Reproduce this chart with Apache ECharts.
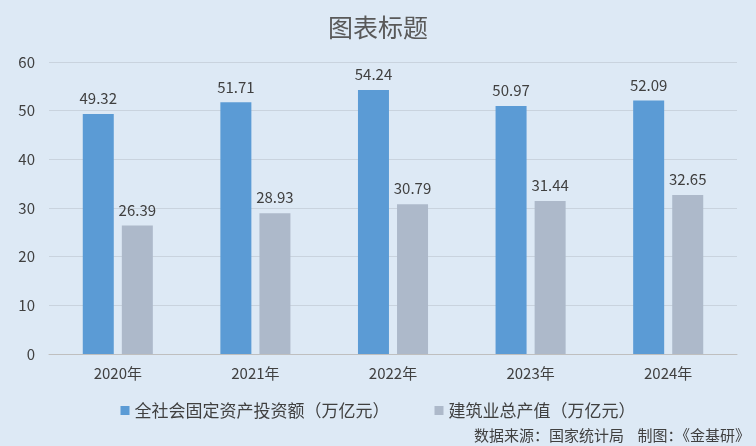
<!DOCTYPE html>
<html><head><meta charset="utf-8">
<script src="https://cdn.jsdelivr.net/npm/echarts@6/dist/echarts.min.js"></script>
<style>html,body{margin:0;padding:0;background:#dde9f5}#c{width:756px;height:446px}</style>
</head><body><div id="c"></div>
<script>
var years = ['2020年', '2021年', '2022年', '2023年', '2024年'];
var invest = [49.32, 51.71, 54.24, 50.97, 52.09];
var build = [26.39, 28.93, 30.79, 31.44, 32.65];
var font = '"Noto Sans CJK SC", sans-serif';
var lbl = {show: true, position: 'top', color: '#404040', fontSize: 15, fontFamily: font, distance: 8};
var chart = echarts.init(document.getElementById('c'));
chart.setOption({
    backgroundColor: '#dde9f5',
    title: {text: '图表标题', left: 'center', top: 10, textStyle: {color: '#595959', fontSize: 25, fontWeight: 'normal', fontFamily: font}},
    grid: {left: 49, right: 19, top: 62, bottom: 92},
    legend: {
        bottom: 22, itemWidth: 9, itemHeight: 9, itemGap: 45, icon: 'rect',
        textStyle: {color: '#404040', fontSize: 17, fontFamily: font}
    },
    graphic: [{type: 'text', right: 6, bottom: 3, style: {text: '数据来源：国家统计局    制图：《金基研》', fill: '#404040', font: '15px ' + font}}],
    xAxis: {
        type: 'category', data: years,
        axisLine: {lineStyle: {color: '#bfbfbf'}}, axisTick: {show: false},
        axisLabel: {color: '#404040', fontSize: 15, fontFamily: font, margin: 12}
    },
    yAxis: {
        type: 'value', min: 0, max: 60, interval: 10,
        axisLabel: {color: '#404040', fontSize: 15, fontFamily: font, margin: 14},
        splitLine: {lineStyle: {color: '#c9d3de'}}
    },
    series: [
        {name: '全社会固定资产投资额（万亿元）', type: 'bar', data: invest, barWidth: 31, barGap: '26%', itemStyle: {color: '#5b9bd5'}, label: lbl},
        {name: '建筑业总产值（万亿元）', type: 'bar', data: build, barWidth: 31, itemStyle: {color: '#adb9ca'}, label: lbl}
    ]
});
</script></body></html>
